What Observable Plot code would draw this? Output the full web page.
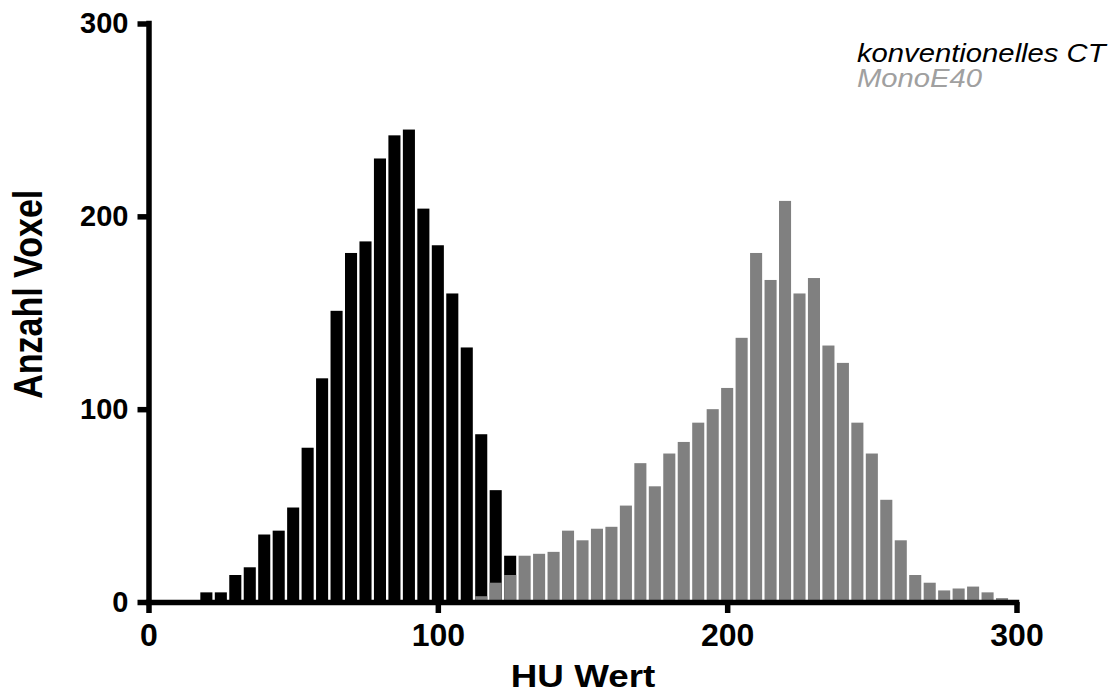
<!DOCTYPE html>
<html><head><meta charset="utf-8">
<script src="https://cdn.jsdelivr.net/npm/d3@7"></script>
<script src="https://cdn.jsdelivr.net/npm/@observablehq/plot@0.6"></script>
<style>html,body{margin:0;padding:0;background:#fff;}</style>
</head><body><div id="chart"></div>
<script>
// Histogram bins (5 HU wide, values = bin centers)
const binWidth = 5;
const ctStart = 20;   // konventionelles CT: first bin center
const ctCounts = [5,5,14,18,35,37,49,80,116,151,181,187,230,242,245,204,185,160,132,87,58,24];
const monoStart = 115; // MonoE40: first bin center
const monoCounts = [3,10,14,24,25,26,37,32,38,39,50,72,60,77,83,93,100,111,137,181,167,208,160,168,133,124,93,77,53,32,14,10,6,7,8,5,2];
const xTicks = [0,100,200,300];
const yTicks = [0,100,200,300];
const legendLabels = ["konventionelles CT","MonoE40"];
const legendColors = ["#000000","#a0a0a0"];
const seriesColors = ["#000000","#808080"];
const xLabel = "HU Wert";
const yLabel = "Anzahl Voxel";

const ct = ctCounts.map((n,i)=>({x: ctStart + i*binWidth, n}));
const mono = monoCounts.map((n,i)=>({x: monoStart + i*binWidth, n}));

const font = "'Liberation Sans', Arial, Helvetica, sans-serif";
const plot = Plot.plot({
  width: 1119, height: 693,
  marginLeft: 148.5, marginRight: 102.5, marginTop: 23.5, marginBottom: 91,
  x: {domain: [0,300]},
  y: {domain: [0,300]},
  style: {fontFamily: font, background: "#fff", color: "#000"},
  marks: [
    Plot.rectY(ct, {x1: d=>d.x-binWidth/2, x2: d=>d.x+binWidth/2, y1: 0, y2: "n", fill: seriesColors[0], insetLeft: 1.2, insetRight: 1.2}),
    Plot.rectY(mono, {x1: d=>d.x-binWidth/2, x2: d=>d.x+binWidth/2, y1: 0, y2: "n", fill: seriesColors[1], insetLeft: 1.2, insetRight: 1.2}),
    Plot.axisX(xTicks, {tickSize: 11, tickPadding: 10, strokeWidth: 5.5, fontSize: 32, fontWeight: "bold", label: null}),
    Plot.axisY(yTicks, {tickSize: 11, tickPadding: 9.5, strokeWidth: 5.5, fontSize: 29, fontWeight: "bold", label: null}),
    Plot.ruleY([0], {x1: 0, x2: 300, strokeWidth: 5.5, strokeLinecap: "square"}),
    Plot.ruleX([0], {y1: 0, y2: 300, strokeWidth: 5.5, strokeLinecap: "square"}),
    Plot.text([xLabel], {text: d=>d, frameAnchor: "bottom", textAnchor: "middle", lineAnchor: "top", dy: 62, fontSize: 32, fontWeight: "bold"}),
    Plot.text([yLabel], {text: d=>d, frameAnchor: "left", textAnchor: "middle", rotate: -90, lineAnchor: "top", dx: -135.5, dy: -19, fontSize: 34, fontWeight: "bold"}),
    Plot.text([legendLabels[0]], {text: d=>d, frameAnchor: "top-right", textAnchor: "start", lineAnchor: "top", dx: -160, dy: 20, fontSize: 25, fontStyle: "italic", fill: legendColors[0]}),
    Plot.text([legendLabels[1]], {text: d=>d, frameAnchor: "top-right", textAnchor: "start", lineAnchor: "top", dx: -160, dy: 45.5, fontSize: 25, fontStyle: "italic", fill: legendColors[1]})
  ]
});
document.getElementById("chart").appendChild(plot);

// slight horizontal stretch of label text, as in the reference
d3.select(plot).selectAll("text").each(function(){
  const t = this.textContent;
  const el = d3.select(this);
  const tr = el.attr("transform") || "";
  if (legendLabels.includes(t)) el.attr("transform", tr + " scale(1.17,1)");
  else if (t === xLabel) el.attr("transform", tr + " scale(1.15,1)");
  else if (t === yLabel) el.attr("transform", tr + " scale(1,1.17)");
});
</script></body></html>
